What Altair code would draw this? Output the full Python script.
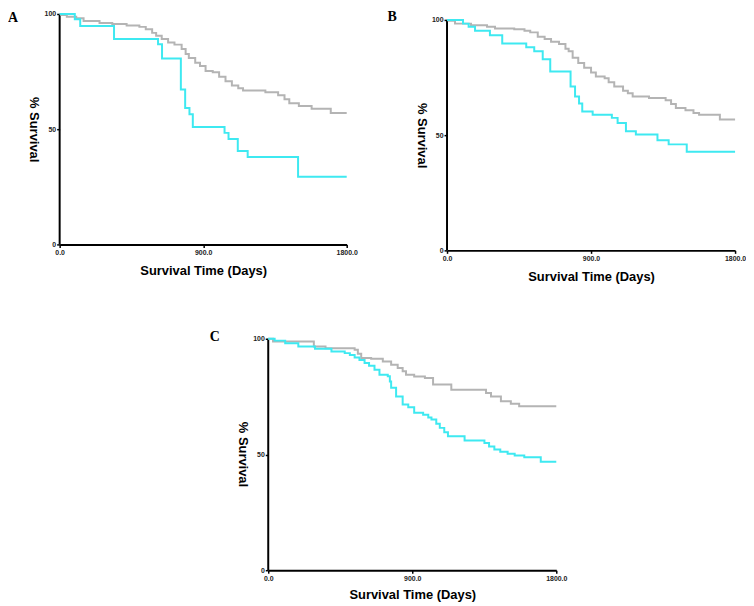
import altair as alt
import pandas as pd

# ---------------- data ----------------
X_TICKS = [0, 900, 1800]
Y_TICKS = [0, 50, 100]

# Panel A
A_cyan_t = [0, 95, 129, 341, 617, 642, 760, 787, 814, 835, 1034, 1059, 1117, 1179, 1495, 1800]
A_cyan_s = [100, 97.7, 94.8, 89.1, 86.9, 80.7, 67.2, 59.2, 56.5, 51.0, 48.4, 45.7, 40.5, 37.9, 29.4, 29.4]
A_grey_t = [0, 10, 45, 104, 150, 250, 330, 420, 500, 540, 580, 605, 640, 680, 720, 765, 790, 810,
            850, 880, 915, 960, 1000, 1040, 1080, 1120, 1150, 1290, 1370, 1410, 1440, 1500, 1580,
            1700, 1800]
A_grey_s = [100, 99.6, 98.8, 98.1, 97.0, 96.1, 95.7, 95.0, 94.4, 93.4, 91.8, 90.5, 89.1, 87.6, 86.7,
            84.8, 82.6, 80.9, 78.8, 77.4, 75.3, 74.7, 72.8, 70.8, 69.0, 67.8, 66.8, 66.0, 64.7, 63.0,
            61.3, 60.1, 58.9, 57.0, 57.0]

# Panel B
B_cyan_t = [0, 100, 135, 175, 268, 345, 495, 545, 598, 645, 772, 800, 825, 845, 910, 1030, 1066,
            1118, 1180, 1315, 1385, 1498, 1800]
B_cyan_s = [100, 98.4, 97.0, 95.3, 93.4, 89.8, 88.1, 86.4, 82.9, 77.6, 71.1, 66.8, 63.7, 60.3, 58.9,
            57.5, 55.3, 51.7, 50.3, 47.8, 46.0, 42.8, 42.8]
B_grey_t = [0, 10, 50, 150, 250, 300, 420, 484, 520, 567, 610, 650, 700, 740, 760, 785, 820, 857,
            900, 930, 985, 1010, 1045, 1100, 1130, 1160, 1262, 1366, 1400, 1430, 1490, 1540, 1575,
            1705, 1800]
B_grey_s = [100, 99.6, 98.4, 97.7, 97.0, 96.3, 96.0, 95.3, 94.6, 92.7, 91.7, 90.5, 89.6, 87.5, 86.4,
            83.6, 81.3, 79.3, 77.2, 75.5, 74.7, 73.0, 71.1, 69.3, 68.2, 66.8, 66.1, 65.1, 63.5, 61.8,
            60.8, 59.6, 58.9, 56.8, 56.8]

# Panel C
C_cyan_t = [0, 40, 106, 188, 292, 395, 478, 510, 540, 570, 602, 630, 664, 695, 747, 760, 768, 799,
            840, 875, 912, 968, 1000, 1020, 1050, 1072, 1100, 1123, 1227, 1351, 1380, 1413, 1450,
            1496, 1540, 1600, 1703, 1800]
C_cyan_s = [100, 99.2, 98.1, 96.7, 95.7, 94.5, 93.8, 93.0, 91.9, 90.8, 89.5, 88.3, 86.6, 84.5, 83.8,
            81.5, 78.8, 75.1, 71.6, 70.4, 68.0, 67.2, 66.0, 65.1, 63.3, 61.5, 59.6, 57.9, 56.0, 55.0,
            53.5, 52.2, 51.2, 50.3, 49.6, 48.8, 46.9, 46.9]
C_grey_t = [0, 30, 285, 358, 540, 560, 581, 643, 716, 768, 809, 840, 861, 912, 979, 1030, 1144,
            1361, 1392, 1454, 1516, 1568, 1800]
C_grey_s = [100, 98.8, 96.7, 95.9, 95.3, 93.5, 91.7, 91.4, 90.2, 88.8, 87.4, 86.0, 84.5, 83.7, 83.0,
            80.2, 78.0, 76.6, 75.1, 73.0, 71.9, 70.8, 70.8]

CYAN = "#3ee9f1"
GREY = "#b4b4b4"
FONT = "Liberation Sans"


def panel(letter, ct, cs, gt, gs, width, height, ymax, ldx, ldy, ytitle_y, xtitle_y):
    grey = pd.DataFrame({"t": gt, "s": gs})
    cyan = pd.DataFrame({"t": ct, "s": cs})
    axis_line = pd.DataFrame({"t": [0], "s": [0], "s2": [100]})

    xenc = alt.X("t:Q", scale=alt.Scale(domain=[0, 1800], nice=False, zero=False),
                 axis=alt.Axis(values=X_TICKS, format=".1f", title="Survival Time (Days)",
                               labelFlush=False, titleY=xtitle_y, titleBaseline="middle",
                               grid=False))
    yenc = alt.Y("s:Q", scale=alt.Scale(domain=[0, ymax], nice=False, zero=True),
                 axis=alt.Axis(values=Y_TICKS, format="d", title="% Survival", domain=False,
                               titleAngle=90, titleX=-26, titleY=ytitle_y, titleAlign="center",
                               titleBaseline="middle", grid=False))

    rule = alt.Chart(axis_line).mark_rule(color="black", strokeWidth=2).encode(
        x=xenc, y=yenc, y2="s2:Q")
    g = alt.Chart(grey).mark_line(interpolate="step-after", color=GREY, strokeWidth=2).encode(
        x=xenc, y=yenc)
    c = alt.Chart(cyan).mark_line(interpolate="step-after", color=CYAN, strokeWidth=2).encode(
        x=xenc, y=yenc)

    return alt.layer(rule, g, c).properties(
        width=width, height=height,
        title=alt.TitleParams(text=letter, anchor="start", frame="group", dx=ldx, dy=ldy,
                              offset=0, font="Liberation Serif", fontSize=14, fontWeight="bold",
                              color="black", baseline="alphabetic"))


pA = panel("A", A_cyan_t, A_cyan_s, A_grey_t, A_grey_s, 289, 232, 100, -52, 26, 116, 26)
pB = panel("B", B_cyan_t, B_cyan_s, B_grey_t, B_grey_s, 290, 238, 100 * 238 / 232, -60, 21.5, 122, 26)
pC = panel("C", C_cyan_t, C_cyan_s, C_grey_t, C_grey_s, 290, 233, 100, -59, 20.5, 116, 24)

spacer = alt.Chart(pd.DataFrame({"v": [0]})).mark_point(opacity=0).encode(
    x=alt.X("v:Q", axis=None), y=alt.Y("v:Q", axis=None)).properties(width=109, height=10)

row1 = alt.hconcat(pA, pB, spacing=101, bounds="flush")
row2 = alt.hconcat(spacer, pC, spacing=101, bounds="flush")

chart = alt.vconcat(row1, row2, spacing=47).properties(padding=0, background="white")

chart = chart.configure_view(stroke=None).configure_axis(
    labelFont=FONT, labelFontSize=7, labelFontWeight="bold", labelColor="#222",
    titleFont=FONT, titleFontSize=13, titleFontWeight="bold", titleColor="black",
    tickColor="black", tickSize=3, tickWidth=1.5, domainColor="black", domainWidth=2,
    labelPadding=1, grid=False)

chart.save("out.html", embed_options={"renderer": "svg", "actions": False})
